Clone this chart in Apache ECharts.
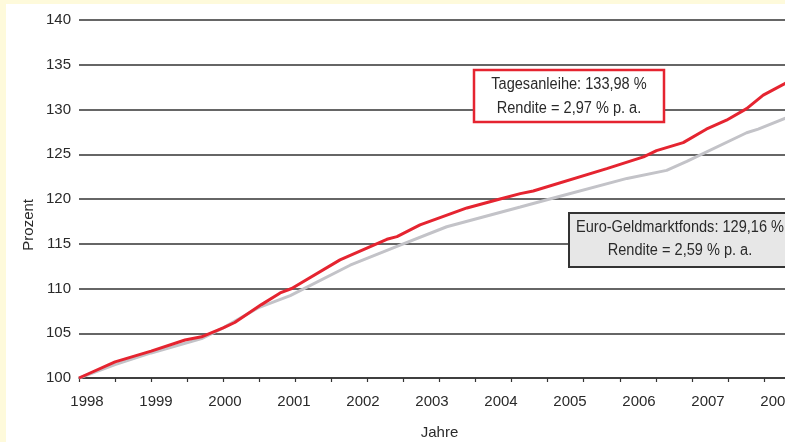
<!DOCTYPE html>
<html><head><meta charset="utf-8">
<script src="https://cdn.jsdelivr.net/npm/echarts@6/dist/echarts.min.js"></script>
<style>
html,body{margin:0;padding:0;background:#fefadb;}
#wrap{position:absolute;left:6px;top:4px;right:0;bottom:0;background:#fff;}
#c{position:absolute;left:-6px;top:-4px;width:785px;height:442px;}
</style></head>
<body><div id="wrap"><div id="c"></div></div>
<script>
// Data
const yearTicks = [1998,1999,2000,2001,2002,2003,2004,2005,2006,2007,2008];
const tagesX = [1998.0,1998.5,1999.0,1999.47,1999.7,2000.0,2000.16,2000.53,2000.79,2000.95,2001.62,2002.27,2002.41,2002.73,2003.38,2003.84,2004.12,2004.3,2005.32,2005.83,2006.01,2006.38,2006.7,2006.98,2007.26,2007.49,2007.79,2008.0];
const tagesY = [100,101.8,103.0,104.25,104.6,105.6,106.2,108.2,109.5,110.0,113.2,115.5,115.8,117.1,119.0,120.0,120.6,120.9,123.4,124.7,125.4,126.3,127.8,128.8,130.1,131.6,132.9,133.98];
const geldX = [1998.0,1998.5,1999.0,1999.7,2000.0,2000.5,2000.93,2001.76,2002.41,2003.1,2004.12,2004.53,2005.6,2006.15,2006.43,2007.26,2007.42,2007.79,2008.0];
const geldY = [100,101.5,102.8,104.4,105.6,107.9,109.2,112.6,114.7,116.9,119.1,120.0,122.3,123.2,124.2,127.4,127.8,129.0,129.6];
const box1Lines = ['Tagesanleihe: 133,98 %','Rendite = 2,97 % p. a.'];
const box2Lines = ['Euro-Geldmarktfonds: 129,16 %','Rendite = 2,59 % p. a.'];

const chart = echarts.init(document.getElementById('c'), null, {renderer:'canvas'});
const txt = '#2a2a2a';
const sans = "'Liberation Sans', Arial, sans-serif";
function boxText(x, y, s) {
  return {type:'text', x:x, y:y, scaleX:0.91, z:11,
    style:{text:s, align:'center', verticalAlign:'middle', fontSize:16, fill:txt, fontFamily:sans}};
}
chart.setOption({
  animation:false,
  backgroundColor:'transparent',
  grid:[
    {left:79, right:-15, top:20, bottom:64, outerBoundsMode:'none', containLabel:false},
    {left:87, width:690, top:20, bottom:64, outerBoundsMode:'none', containLabel:false}
  ],
  xAxis:[
    {type:'value', gridIndex:0, min:1998, max:2008, interval:0.5,
     axisLine:{show:true, lineStyle:{color:'#333', width:1.5}},
     axisTick:{show:true, length:4, lineStyle:{color:'#333', width:1.2}},
     axisLabel:{show:false}, splitLine:{show:false},
     name:'Jahre', nameLocation:'middle', nameGap:47,
     nameTextStyle:{fontSize:15, color:txt, fontFamily:sans}},
    {type:'value', gridIndex:1, min:1998, max:2008, interval:1,
     axisLine:{show:false}, axisTick:{show:false}, splitLine:{show:false},
     axisLabel:{show:true, margin:16, fontSize:15, color:txt, showMinLabel:true, showMaxLabel:true,
       hideOverlap:false, fontFamily:sans,
       formatter:v=> yearTicks.includes(v) ? String(v) : ''}}
  ],
  yAxis:[
    {type:'value', gridIndex:0, min:100, max:140, interval:5,
     axisLine:{show:false}, axisTick:{show:false},
     axisLabel:{margin:8, fontSize:15, color:txt, fontFamily:sans},
     splitLine:{show:true, lineStyle:{color:'#333', width:1.5}}},
    {type:'value', gridIndex:1, min:100, max:140, show:false}
  ],
  series:[
    {type:'line', xAxisIndex:0, yAxisIndex:0, data:geldX.map((x,i)=>[x,geldY[i]]),
     showSymbol:false, lineStyle:{color:'#c3c3c8', width:3}, z:3},
    {type:'line', xAxisIndex:0, yAxisIndex:0, data:tagesX.map((x,i)=>[x,tagesY[i]]),
     showSymbol:false, lineStyle:{color:'#e52430', width:3}, z:4}
  ],
  graphic:[
    {type:'text', left:21, top:199, rotation:Math.PI/2, style:{text:'Prozent', fontSize:15, fill:txt, fontFamily:sans}},
    {type:'rect', shape:{x:474, y:70, width:190, height:52}, style:{fill:'#fff', stroke:'#e52430', lineWidth:2.5}, z:10},
    boxText(569, 85, box1Lines[0]),
    boxText(569, 109, box1Lines[1]),
    {type:'rect', shape:{x:569, y:213, width:222, height:54}, style:{fill:'#e7e7e7', stroke:'#333', lineWidth:2}, z:10},
    boxText(680, 228, box2Lines[0]),
    boxText(680, 251, box2Lines[1])
  ]
});
</script></body></html>
